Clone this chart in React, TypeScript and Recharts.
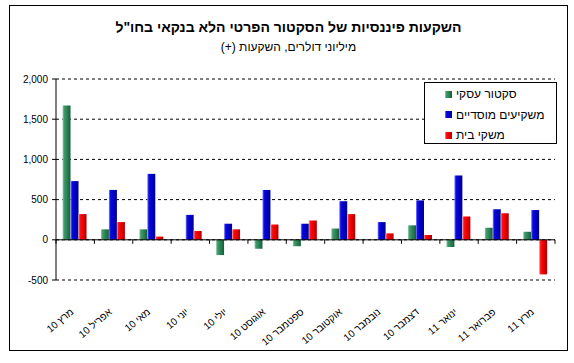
import React from 'react';
import { BarChart, Bar, XAxis, YAxis, CartesianGrid, ReferenceLine } from 'recharts';

const categories = ['מרץ 10', 'אפריל 10', 'מאי 10', 'יוני 10', 'יולי 10', 'אוגוסט 10', 'ספטמבר 10', 'אוקטובר 10', 'נובמבר 10', 'דצמבר 10', 'ינואר 11', 'פברואר 11', 'מרץ 11'];
const business = [1670, 130, 130, 0, -190, -110, -80, 140, 0, 180, -90, 150, 100];
const institutional = [730, 620, 820, 310, 200, 620, 200, 480, 220, 490, 800, 380, 370];
const households = [320, 220, 40, 110, 130, 190, 240, 320, 80, 60, 290, 330, -430];
const yTicks = [-500, 0, 500, 1000, 1500, 2000];

const seriesNames = ['סקטור עסקי', 'משקיעים מוסדיים', 'משקי בית'];
const title = 'השקעות פיננסיות של הסקטור הפרטי הלא בנקאי בחו"ל';
const subtitle = 'מיליוני דולרים, השקעות (+)';

const data = categories.map((c, i) => ({
  name: c,
  business: business[i],
  institutional: institutional[i],
  households: households[i],
}));

const FONT = '"Liberation Sans", Arial, sans-serif';

const gradients = [
  { id: 'gGreen', stops: ['#9fd2b6', '#3f9a6c', '#2e8757', '#1a5a3a'] },
  { id: 'gBlue', stops: ['#8c8cff', '#0a0ae6', '#0000cc', '#00008a'] },
  { id: 'gRed', stops: ['#ff9a9a', '#ff1010', '#f00000', '#a80000'] },
];
const cssGrad = (s: string[]) => `linear-gradient(to right, ${s[0]} 0%, ${s[1]} 20%, ${s[2]} 50%, ${s[3]} 100%)`;

const ZeroAxis = (props: any) => {
  const { x1, y1, x2, y2 } = props;
  if (x1 == null) return null;
  const n = categories.length;
  const step = (x2 - x1) / n;
  const ticks = Array.from({ length: n + 1 }, (_, i) => x1 + i * step);
  return (
    <g>
      <line x1={x1} y1={y1} x2={x2} y2={y2} stroke="#000" strokeWidth={1} />
      {ticks.map((tx, i) => (
        <line key={i} x1={tx} y1={y1} x2={tx} y2={y1 + 4} stroke="#000" strokeWidth={1} />
      ))}
    </g>
  );
};

const CatTick = (props: any) => {
  const { x, y, payload } = props;
  const ax = x - 1;
  const ay = y + 25;
  return (
    <text
      x={ax}
      y={ay}
      transform={`rotate(-40, ${ax}, ${ay})`}
      textAnchor="end"
      fontSize={10}
      fontFamily={FONT}
      fill="#000"
    >
      {payload.value}
    </text>
  );
};

export default function App() {
  return (
    <div style={{ position: 'absolute', left: 0, top: 0, width: 574, height: 363, background: '#fff', fontFamily: FONT }}>
      <svg width={0} height={0} style={{ position: 'absolute' }}>
        <defs>
          {gradients.map((g) => (
            <linearGradient key={g.id} id={g.id} x1="0" y1="0" x2="1" y2="0">
              <stop offset="0%" stopColor={g.stops[0]} />
              <stop offset="20%" stopColor={g.stops[1]} />
              <stop offset="50%" stopColor={g.stops[2]} />
              <stop offset="100%" stopColor={g.stops[3]} />
            </linearGradient>
          ))}
        </defs>
      </svg>
      <div style={{ position: 'absolute', left: 0, top: 0 }}>
        <BarChart
          width={574}
          height={363}
          data={data}
          margin={{ top: 79, right: 19, bottom: 53, left: 10 }}
          barCategoryGap="17%"
          barGap={0}
        >
          <CartesianGrid vertical={false} stroke="#000" strokeDasharray="3 3" />
          <YAxis
            width={46}
            domain={[-500, 2000]}
            ticks={yTicks}
            interval={0}
            tickSize={4}
            tickMargin={4}
            axisLine={{ stroke: '#000' }}
            tickLine={{ stroke: '#000' }}
            tick={{ fill: '#000', fontSize: 10, fontFamily: FONT }}
            tickFormatter={(v: number) => v.toLocaleString('en-US')}
          />
          <XAxis
            dataKey="name"
            height={30}
            interval={0}
            axisLine={false}
            tickLine={false}
            tick={<CatTick />}
          />
          <Bar dataKey="business" name={seriesNames[0]} fill="url(#gGreen)" isAnimationActive={false} />
          <Bar dataKey="institutional" name={seriesNames[1]} fill="url(#gBlue)" isAnimationActive={false} />
          <Bar dataKey="households" name={seriesNames[2]} fill="url(#gRed)" isAnimationActive={false} />
          <ReferenceLine y={0} shape={ZeroAxis} />
        </BarChart>
      </div>
      <div style={{ position: 'absolute', left: 9, top: 5, width: 559, height: 346, border: '1px solid #000', boxSizing: 'border-box', pointerEvents: 'none' }} />
      <div style={{ position: 'absolute', left: 9, top: 19, width: 559, textAlign: 'center', direction: 'rtl', fontWeight: 'bold', fontSize: 14, lineHeight: '16px', color: '#000' }}>
        {title}
      </div>
      <div style={{ position: 'absolute', left: 9, top: 40, width: 559, textAlign: 'center', direction: 'rtl', fontSize: 12, lineHeight: '14px', color: '#000' }}>
        {subtitle}
      </div>
      <div style={{ position: 'absolute', left: 424, top: 82, width: 133, height: 62, border: '1px solid #000', boxSizing: 'border-box', background: '#fff' }}>
        {seriesNames.map((n, i) => (
          <div key={n} style={{ position: 'absolute', left: 20, top: 4 + i * 20.5, height: 14, display: 'flex', alignItems: 'center' }}>
            <div style={{ width: 7, height: 7, background: cssGrad(gradients[i].stops) }} />
            <span style={{ marginLeft: 4, fontSize: 12, lineHeight: '14px', direction: 'rtl', whiteSpace: 'nowrap' }}>{n}</span>
          </div>
        ))}
      </div>
    </div>
  );
}
